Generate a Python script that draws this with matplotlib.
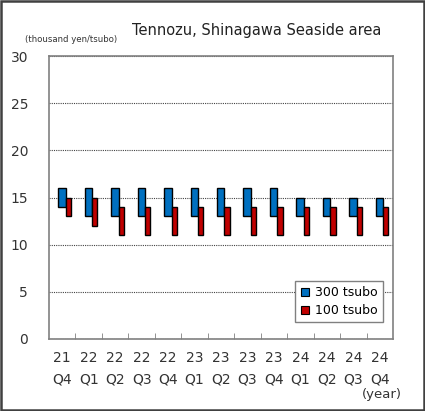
import numpy as np
import matplotlib.pyplot as plt
from matplotlib.patches import Rectangle
from matplotlib.lines import Line2D

# Quarter labels and price ranges (thousand yen/tsubo)
years = ['21', '22', '22', '22', '22', '23', '23', '23', '23', '24', '24', '24', '24']
quarters = ['Q4', 'Q1', 'Q2', 'Q3', 'Q4', 'Q1', 'Q2', 'Q3', 'Q4', 'Q1', 'Q2', 'Q3', 'Q4']
low_300 = [14, 13, 13, 13, 13, 13, 13, 13, 13, 13, 13, 13, 13]
high_300 = [16, 16, 16, 16, 16, 16, 16, 16, 16, 15, 15, 15, 15]
low_100 = [13, 12, 11, 11, 11, 11, 11, 11, 11, 11, 11, 11, 11]
high_100 = [15, 15, 14, 14, 14, 14, 14, 14, 14, 14, 14, 14, 14]

blue = '#0070C0'
red = '#C00000'

fig = plt.figure(figsize=(4.25, 4.11), dpi=100)
ax = fig.add_axes([0.1153, 0.1752, 0.8094, 0.6885])

x = np.arange(len(years))
lo3 = np.array(low_300)
hi3 = np.array(high_300)
lo1 = np.array(low_100)
hi1 = np.array(high_100)

ax.bar(x - 0.15, hi3 - lo3, bottom=lo3, width=0.28, align='edge',
       color=blue, edgecolor='black', linewidth=1.0, zorder=3)
ax.bar(x + 0.13, hi1 - lo1, bottom=lo1, width=0.20, align='edge',
       color=red, edgecolor='black', linewidth=1.0, zorder=3)

ax.set_xlim(-0.5, len(years) - 0.5)
ax.set_ylim(0, 30)
ax.set_yticks(range(0, 31, 5))
ax.set_xticks(x)
ax.set_xticklabels([f'{y}\n{q}' for y, q in zip(years, quarters)],
                   fontsize=10, color='#333333', linespacing=1.6)
ax.set_xticks(np.arange(0.5, len(years) - 1, 1), minor=True)
ax.tick_params(axis='x', which='major', length=0, pad=9)
ax.tick_params(axis='x', which='minor', length=4, direction='in', color='#808080')
ax.tick_params(axis='y', length=0, pad=15, labelsize=10, labelcolor='#333333')

ax.yaxis.grid(True, linestyle=(0, (1, 1)), color='#444444', linewidth=0.8)
ax.set_axisbelow(True)
for s in ax.spines.values():
    s.set_color('#808080')
    s.set_linewidth(1.2)

handles = [Line2D([], [], marker='s', linestyle='none', markersize=5.5,
                  markerfacecolor=blue, markeredgecolor='black', markeredgewidth=0.8),
           Line2D([], [], marker='s', linestyle='none', markersize=5.5,
                  markerfacecolor=red, markeredgecolor='black', markeredgewidth=0.8)]
leg = ax.legend(handles, ['300 tsubo', '100 tsubo'], loc='lower right',
                bbox_to_anchor=(0.97, 0.06), fontsize=9, frameon=True,
                fancybox=False, edgecolor='#808080', framealpha=1,
                handlelength=0.8, handletextpad=0.4, borderpad=0.4,
                labelspacing=0.4, borderaxespad=0)
leg.get_frame().set_linewidth(1.0)
leg.set_zorder(5)

fig.text(0.605, 0.927, 'Tennozu, Shinagawa Seaside area', fontsize=10.5,
         ha='center', va='center', color='#222222')
fig.text(0.059, 0.905, '(thousand yen/tsubo)', fontsize=6.8,
         fontstretch='condensed', ha='left', va='center', color='#333333')
fig.text(0.946, 0.04, '(year)', fontsize=9.5, ha='right', va='center',
         color='#333333')

fig.add_artist(Rectangle((0.002, 0.002), 0.996, 0.996, transform=fig.transFigure,
                         fill=False, edgecolor='#404040', linewidth=1.8))

fig.savefig('out.png', dpi=100)
